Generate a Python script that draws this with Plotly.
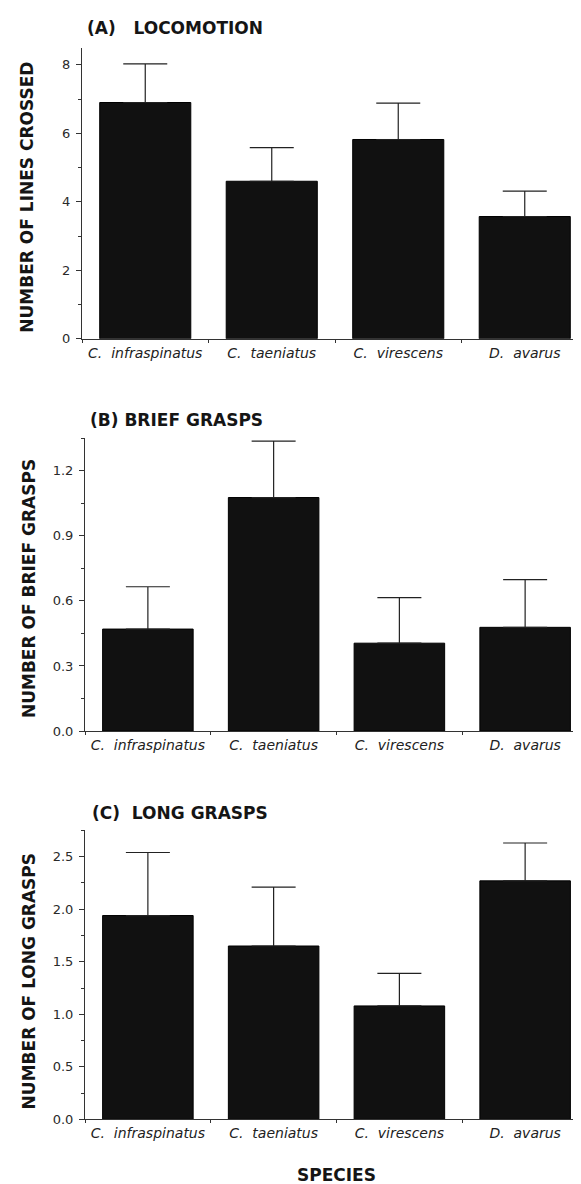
import plotly.graph_objects as go

# ---- data ----
species = ["C.  infraspinatus", "C.  taeniatus", "C.  virescens", "D.  avarus"]

locomotion_mean = [6.90, 4.60, 5.82, 3.57]
locomotion_se = [1.13, 0.98, 1.06, 0.74]

brief_mean = [0.47, 1.076, 0.405, 0.478]
brief_se = [0.195, 0.26, 0.21, 0.22]

long_mean = [1.94, 1.65, 1.08, 2.27]
long_se = [0.60, 0.56, 0.31, 0.36]

panel_titles = ["(A)   LOCOMOTION", "(B) BRIEF GRASPS", "(C)  LONG GRASPS"]
y_titles = ["NUMBER OF LINES CROSSED", "NUMBER OF BRIEF GRASPS", "NUMBER OF LONG GRASPS"]
y_ranges = [[0, 8.5], [0, 1.35], [0, 2.75]]
y_major = [2, 0.3, 0.5]
y_minor = [1, 0.15, 0.25]
y_fmt = ["d", ".1f", ".1f"]

W, H = 581, 1184
FONT = "DejaVu Sans"
INK = "#151515"

# pixel geometry of each panel: (left, right, top, bottom)
panels_px = [(74, 580, 40, 333), (77, 580, 433, 728), (77, 580, 828, 1119)]
title_px = [(77, 20), (80, 415), (82, 810)]
ytitle_px = [(19, 191), (21, 585), (21, 980)]

means = [locomotion_mean, brief_mean, long_mean]
ses = [locomotion_se, brief_se, long_se]

fig = go.Figure()
layout = dict(
    width=W, height=H,
    margin=dict(l=0, r=0, t=0, b=0),
    paper_bgcolor="white", plot_bgcolor="white",
    showlegend=False,
    font=dict(family=FONT, color=INK),
    bargap=0.28,
)
annotations = []
for i in range(3):
    xa = "x" if i == 0 else f"x{i+1}"
    ya = "y" if i == 0 else f"y{i+1}"
    fig.add_trace(go.Bar(
        x=species, y=means[i], xaxis=xa, yaxis=ya,
        marker=dict(color="#111111", line=dict(color="#000000", width=1)),
        width=0.72,
        error_y=dict(type="data", array=ses[i], arrayminus=[0] * len(ses[i]),
                     symmetric=False, color="#222222", thickness=1.2, width=22),
    ))
    l, r, t, b = panels_px[i]
    xkey = "xaxis" if i == 0 else f"xaxis{i+1}"
    ykey = "yaxis" if i == 0 else f"yaxis{i+1}"
    layout[xkey] = dict(
        domain=[l / W, r / W], anchor=ya, type="category",
        range=[-0.5, 3.5], showline=True, linecolor="#333333", linewidth=1,
        ticks="outside", tickson="boundaries", ticklen=3, tickcolor="#333333",
        showgrid=False, zeroline=False, ticklabelstandoff=1,
        tickfont=dict(family=FONT, size=14, color="#222222", style="italic"),
    )
    layout[ykey] = dict(
        domain=[1 - b / H, 1 - t / H], anchor=xa,
        range=y_ranges[i], dtick=y_major[i], tick0=0, tickformat=y_fmt[i],
        showline=True, linecolor="#333333", linewidth=1,
        ticks="outside", ticklen=5, tickcolor="#333333",
        minor=dict(dtick=y_minor[i], tick0=0, ticks="outside", ticklen=3, tickcolor="#333333"),
        showgrid=False, zeroline=False, ticklabelstandoff=3,
        tickfont=dict(family=FONT, size=13, color="#2a2a2a"),
    )
    tx, ty = title_px[i]
    annotations.append(dict(
        text=f"<b>{panel_titles[i]}</b>", x=tx / W, y=1 - ty / H, xref="paper", yref="paper",
        xanchor="left", yanchor="middle", showarrow=False,
        font=dict(family=FONT, size=17, color=INK),
    ))
    yx, yy = ytitle_px[i]
    annotations.append(dict(
        text=f"<b>{y_titles[i]}</b>", x=yx / W, y=1 - yy / H, xref="paper", yref="paper",
        xanchor="center", yanchor="middle", showarrow=False, textangle=-90,
        font=dict(family=FONT, size=17, color=INK),
    ))

annotations.append(dict(
    text="<b>SPECIES</b>", x=328 / W, y=1 - 1175 / H, xref="paper", yref="paper",
    xanchor="center", yanchor="middle", showarrow=False,
    font=dict(family=FONT, size=17, color=INK),
))
layout["annotations"] = annotations
fig.update_layout(**layout)
fig.write_html("out.html")
